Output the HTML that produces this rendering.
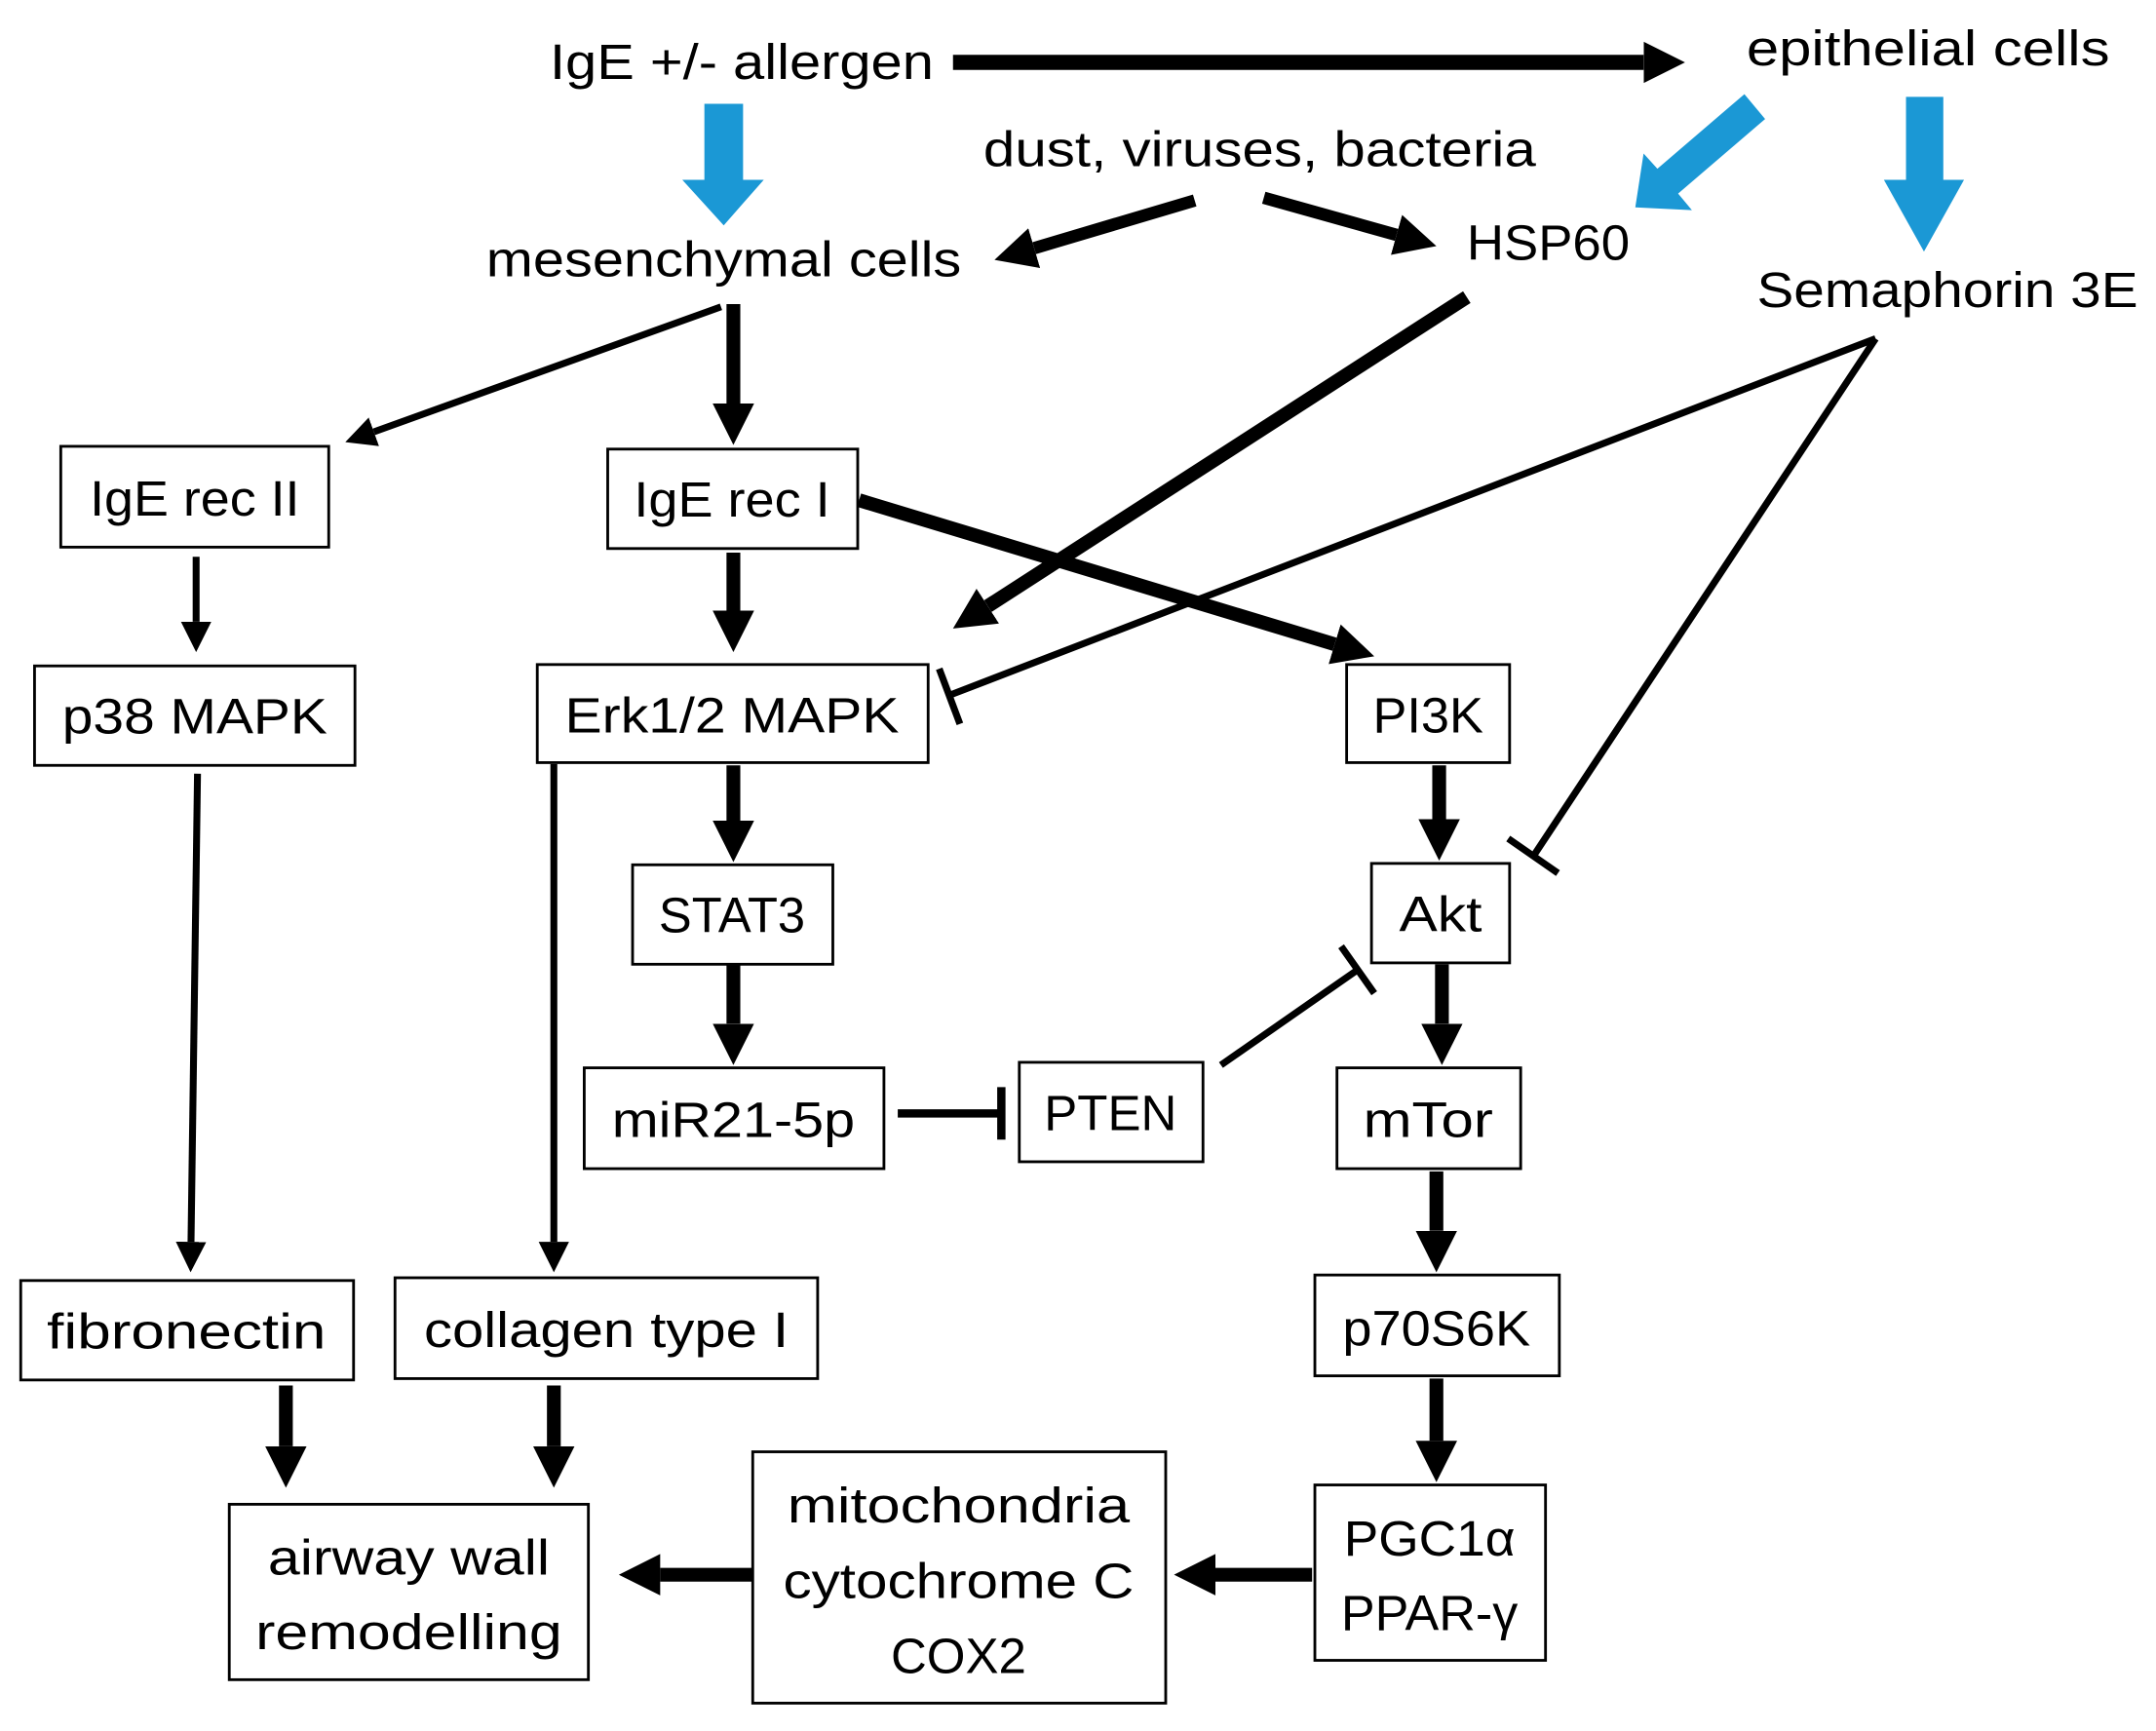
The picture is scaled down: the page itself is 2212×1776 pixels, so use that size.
<!DOCTYPE html>
<html><head><meta charset="utf-8"><style>html,body{margin:0;padding:0;background:#fff}svg{display:block}</style></head>
<body>
<svg width="2212" height="1776" viewBox="0 0 1561 1253" xmlns="http://www.w3.org/2000/svg">
<defs>
<marker id="ab" markerUnits="userSpaceOnUse" markerWidth="30" markerHeight="34" viewBox="0 0 30 34" refX="0" refY="17" orient="auto"><path d="M0,2 L30,17 L0,32 Z" fill="#000"/></marker>
<marker id="as" markerUnits="userSpaceOnUse" markerWidth="22" markerHeight="24" viewBox="0 0 22 24" refX="0" refY="12" orient="auto"><path d="M0,1 L22,12 L0,23 Z" fill="#000"/></marker>
</defs>
<g font-family="Liberation Sans, sans-serif" font-size="36" fill="#000" text-anchor="middle">
<text x="537" y="57" textLength="278" lengthAdjust="spacingAndGlyphs">IgE +/- allergen</text>
<text x="1396" y="47" textLength="263" lengthAdjust="spacingAndGlyphs">epithelial cells</text>
<text x="912" y="120" textLength="400" lengthAdjust="spacingAndGlyphs">dust, viruses, bacteria</text>
<text x="524" y="200" textLength="344" lengthAdjust="spacingAndGlyphs">mesenchymal cells</text>
<text x="1121" y="188" textLength="118" lengthAdjust="spacingAndGlyphs">HSP60</text>
<text x="1410" y="222" textLength="276" lengthAdjust="spacingAndGlyphs">Semaphorin 3E</text>
</g>
<path d="M510,75 L538,75 L538,130 L553,130 L524,163 L494,130 L510,130 Z" fill="#1b98d5"/>
<path d="M1380,70 L1407,70 L1407,130 L1422,130 L1393,182 L1364,130 L1380,130 Z" fill="#1b98d5"/>
<path d="M1263,68 L1278,86 L1215,140 L1225,152 L1184,150 L1190,111 L1200,122 Z" fill="#1b98d5"/>
<g stroke="#000" fill="none">
<line x1="690" y1="45" x2="1190" y2="45" stroke-width="11" marker-end="url(#ab)"/>
<line x1="865" y1="145" x2="748.8" y2="179.5" stroke-width="9" marker-end="url(#ab)"/>
<line x1="915" y1="143" x2="1011.1" y2="169.9" stroke-width="9" marker-end="url(#ab)"/>
<line x1="522" y1="222" x2="270.7" y2="312.5" stroke-width="5" marker-end="url(#as)"/>
<line x1="531" y1="220" x2="531" y2="292" stroke-width="10" marker-end="url(#ab)"/>
<line x1="142" y1="403" x2="142" y2="450" stroke-width="5" marker-end="url(#as)"/>
<line x1="531" y1="400" x2="531" y2="442" stroke-width="10" marker-end="url(#ab)"/>
<line x1="622" y1="362" x2="966.3" y2="466.3" stroke-width="10" marker-end="url(#ab)"/>
<line x1="1062" y1="215" x2="715.2" y2="438.7" stroke-width="10" marker-end="url(#ab)"/>
<line x1="1358" y1="245" x2="688" y2="503" stroke-width="5"/>
<line x1="680" y1="484" x2="695" y2="524" stroke-width="5"/>
<line x1="1358" y1="245" x2="1110" y2="620" stroke-width="5"/>
<line x1="1092" y1="607" x2="1128" y2="632" stroke-width="5"/>
<line x1="143" y1="560" x2="138.3" y2="899" stroke-width="5" marker-end="url(#as)"/>
<line x1="401" y1="553" x2="401" y2="899" stroke-width="5" marker-end="url(#as)"/>
<line x1="531" y1="554" x2="531" y2="594" stroke-width="10" marker-end="url(#ab)"/>
<line x1="531" y1="698" x2="531" y2="741" stroke-width="10" marker-end="url(#ab)"/>
<line x1="650" y1="806" x2="725" y2="806" stroke-width="6"/>
<line x1="725" y1="787" x2="725" y2="825" stroke-width="6"/>
<line x1="884" y1="771" x2="983" y2="702" stroke-width="5"/>
<line x1="971" y1="685" x2="995" y2="719" stroke-width="5"/>
<line x1="1042" y1="554" x2="1042" y2="593" stroke-width="10" marker-end="url(#ab)"/>
<line x1="1044" y1="698" x2="1044" y2="741" stroke-width="10" marker-end="url(#ab)"/>
<line x1="1040" y1="848" x2="1040" y2="891" stroke-width="10" marker-end="url(#ab)"/>
<line x1="1040" y1="998" x2="1040" y2="1043" stroke-width="10" marker-end="url(#ab)"/>
<line x1="950" y1="1140" x2="880" y2="1140" stroke-width="10" marker-end="url(#ab)"/>
<line x1="545" y1="1140" x2="478" y2="1140" stroke-width="10" marker-end="url(#ab)"/>
<line x1="207" y1="1003" x2="207" y2="1047" stroke-width="10" marker-end="url(#ab)"/>
<line x1="401" y1="1003" x2="401" y2="1047" stroke-width="10" marker-end="url(#ab)"/>
</g>
<g fill="#fff" stroke="#000" stroke-width="2">
<rect x="44" y="323" width="194" height="73"/>
<rect x="440" y="325" width="181" height="72"/>
<rect x="25" y="482" width="232" height="72"/>
<rect x="389" y="481" width="283" height="71"/>
<rect x="975" y="481" width="118" height="71"/>
<rect x="458" y="626" width="145" height="72"/>
<rect x="993" y="625" width="100" height="72"/>
<rect x="423" y="773" width="217" height="73"/>
<rect x="738" y="769" width="133" height="72"/>
<rect x="968" y="773" width="133" height="73"/>
<rect x="15" y="927" width="241" height="72"/>
<rect x="286" y="925" width="306" height="73"/>
<rect x="952" y="923" width="177" height="73"/>
<rect x="166" y="1089" width="260" height="127"/>
<rect x="545" y="1051" width="299" height="182"/>
<rect x="952" y="1075" width="167" height="127"/>
</g>
<g font-family="Liberation Sans, sans-serif" font-size="36" fill="#000" text-anchor="middle">
<text x="141" y="373" textLength="152" lengthAdjust="spacingAndGlyphs">IgE rec II</text>
<text x="530" y="374" textLength="142" lengthAdjust="spacingAndGlyphs">IgE rec I</text>
<text x="141" y="531" textLength="192" lengthAdjust="spacingAndGlyphs">p38 MAPK</text>
<text x="530" y="530" textLength="242" lengthAdjust="spacingAndGlyphs">Erk1/2 MAPK</text>
<text x="1034" y="530" textLength="80" lengthAdjust="spacingAndGlyphs">PI3K</text>
<text x="530" y="675" textLength="106" lengthAdjust="spacingAndGlyphs">STAT3</text>
<text x="1043" y="674" textLength="60" lengthAdjust="spacingAndGlyphs">Akt</text>
<text x="531" y="823" textLength="176" lengthAdjust="spacingAndGlyphs">miR21-5p</text>
<text x="804" y="818" textLength="96" lengthAdjust="spacingAndGlyphs">PTEN</text>
<text x="1034" y="823" textLength="94" lengthAdjust="spacingAndGlyphs">mTor</text>
<text x="135" y="976" textLength="202" lengthAdjust="spacingAndGlyphs">fibronectin</text>
<text x="439" y="975" textLength="264" lengthAdjust="spacingAndGlyphs">collagen type I</text>
<text x="1040" y="974" textLength="136" lengthAdjust="spacingAndGlyphs">p70S6K</text>
<text x="296" y="1140" textLength="204" lengthAdjust="spacingAndGlyphs">airway wall</text>
<text x="296" y="1194" textLength="222" lengthAdjust="spacingAndGlyphs">remodelling</text>
<text x="694" y="1102" textLength="248" lengthAdjust="spacingAndGlyphs">mitochondria</text>
<text x="694" y="1157" textLength="254" lengthAdjust="spacingAndGlyphs">cytochrome C</text>
<text x="694" y="1211" textLength="98" lengthAdjust="spacingAndGlyphs">COX2</text>
<text x="1035" y="1126" textLength="124" lengthAdjust="spacingAndGlyphs">PGC1α</text>
<text x="1035" y="1180" textLength="128" lengthAdjust="spacingAndGlyphs">PPAR-γ</text>
</g>
</svg>
</body></html>
